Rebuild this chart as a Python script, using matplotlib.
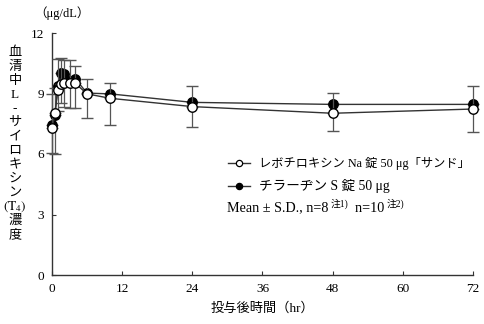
import matplotlib
matplotlib.use("Agg")
import matplotlib.pyplot as plt
from matplotlib.lines import Line2D

# Serum L-thyroxine (T4) concentration after a single oral dose
hours = [0, 0.5, 1, 1.5, 2, 3, 4, 6, 10, 24, 48, 72]
sandoz_mean = [7.27, 8.05, 9.15, 9.45, 9.53, 9.50, 9.50, 8.98, 8.76, 8.35, 8.02, 8.23]
sandoz_sd = [1.70, 1.20, 1.55, 1.32, 1.15, 1.16, 0.86, 0.74, 0.74, 1.02, 1.02, 1.14]
thyradin_mean = [7.45, 7.95, 9.35, 10.03, 9.95, 9.60, 9.72, 9.02, 8.98, 8.56, 8.46, 8.46]
thyradin_sd = [1.40, 1.95, 1.20, 1.52, 1.61, 1.34, 1.46, 1.25, 1.54, 1.21, 1.32, 1.39]

x_ticks = [0, 12, 24, 36, 48, 60, 72]
y_ticks = [0, 3, 6, 9, 12]
sandoz_label = "レボチロキシン Na 錠 50 μg「サンド」"
thyradin_label = "チラーヂン S 錠 50 μg"
ylabel_chars = ["血", "清", "中", "L", "-", "サ", "イ", "ロ", "キ", "シ", "ン",
                r"$\mathrm{(T_4)}$", "濃", "度"]

plt.rcParams["mathtext.fontset"] = "stix"
FONT = ["Liberation Serif", "DejaVu Serif", "Noto Sans CJK JP"]
W, H = 485, 324

fig = plt.figure(figsize=(W / 100, H / 100), dpi=100)
ax = fig.add_axes([52 / W, 49 / H, 421 / W, 242 / H])

zeros = [0] * len(hours)
line_kw = dict(color="#333333", lw=1.0, ms=6.8, mec="black", mew=1.0,
               ecolor="#555555", elinewidth=0.9, capsize=4.5, capthick=0.9,
               clip_on=False)
eb1 = ax.errorbar(hours, thyradin_mean, yerr=[thyradin_sd, zeros], marker="o",
                  mfc="black", zorder=3, **line_kw)
eb2 = ax.errorbar(hours, sandoz_mean, yerr=[zeros, sandoz_sd], marker="o",
                  mfc="white", zorder=4, **line_kw)
for eb in (eb1, eb2):
    for part in eb[1] + eb[2]:
        part.set_clip_on(False)

ax.set_xlim(0, 72)
ax.set_ylim(0, 12)
ax.set_xticks(x_ticks)
ax.set_yticks(y_ticks)
for s in ("top", "right"):
    ax.spines[s].set_visible(False)
for s in ("left", "bottom"):
    ax.spines[s].set_color("#333333")
    ax.spines[s].set_linewidth(1.0)
ax.tick_params(axis="both", direction="in", length=3, width=0.8, color="#333333",
               labelsize=9.5)
ax.tick_params(axis="x", pad=6)
ax.tick_params(axis="y", pad=6)
for lab in ax.get_xticklabels() + ax.get_yticklabels():
    lab.set_family(FONT)

ax.set_xlabel("投与後時間（hr）", family=FONT, fontsize=9.5, labelpad=5)

# vertical y label, one character per line
for i, ch in enumerate(ylabel_chars):
    py = 53 + i * 14
    fig.text(15 / W, 1 - py / H, ch, family=FONT, fontsize=9.5,
             ha="center", va="center")
fig.text(62 / W, 1 - 13 / H, "（μg/dL）", family=FONT, fontsize=9,
         ha="center", va="center")

# legend
def axfrac(px, py):
    return (px - 52) / 421, (275 - py) / 242

for py, face, label, fs in ((163, "white", sandoz_label, 8.8),
                            (186, "black", thyradin_label, 9.8)):
    x0, y0 = axfrac(228, py)
    x1, _ = axfrac(250, py)
    ax.add_line(Line2D([x0, x1], [y0, y0], transform=ax.transAxes, color="#333333",
                       lw=1.0, clip_on=False))
    ax.add_line(Line2D([(x0 + x1) / 2], [y0], transform=ax.transAxes, marker="o",
                       ms=4.5, mfc=face, mec="black", mew=0.9, clip_on=False))
    tx, _ = axfrac(259, py)
    ax.text(tx, y0, label, transform=ax.transAxes, family=FONT, fontsize=fs,
            ha="left", va="center")

mx, my = axfrac(227, 208)
t1 = ax.text(mx, my, "Mean ± S.D., n=8", transform=ax.transAxes, family=FONT,
             fontsize=10.2, ha="left", va="center")
s1 = ax.annotate("注1)", xy=(1, 0.45), xycoords=t1, xytext=(1.5, 0),
                 textcoords="offset points", family=FONT, fontsize=7,
                 ha="left", va="bottom")
t2 = ax.annotate("  n=10", xy=(1, 0.5), xycoords=(s1, t1), family=FONT,
                 fontsize=10.2, ha="left", va="center")
ax.annotate("注2)", xy=(1, 0.45), xycoords=t2, xytext=(1.5, 0),
            textcoords="offset points", family=FONT, fontsize=7,
            ha="left", va="bottom")

fig.savefig("out.png", dpi=100)
